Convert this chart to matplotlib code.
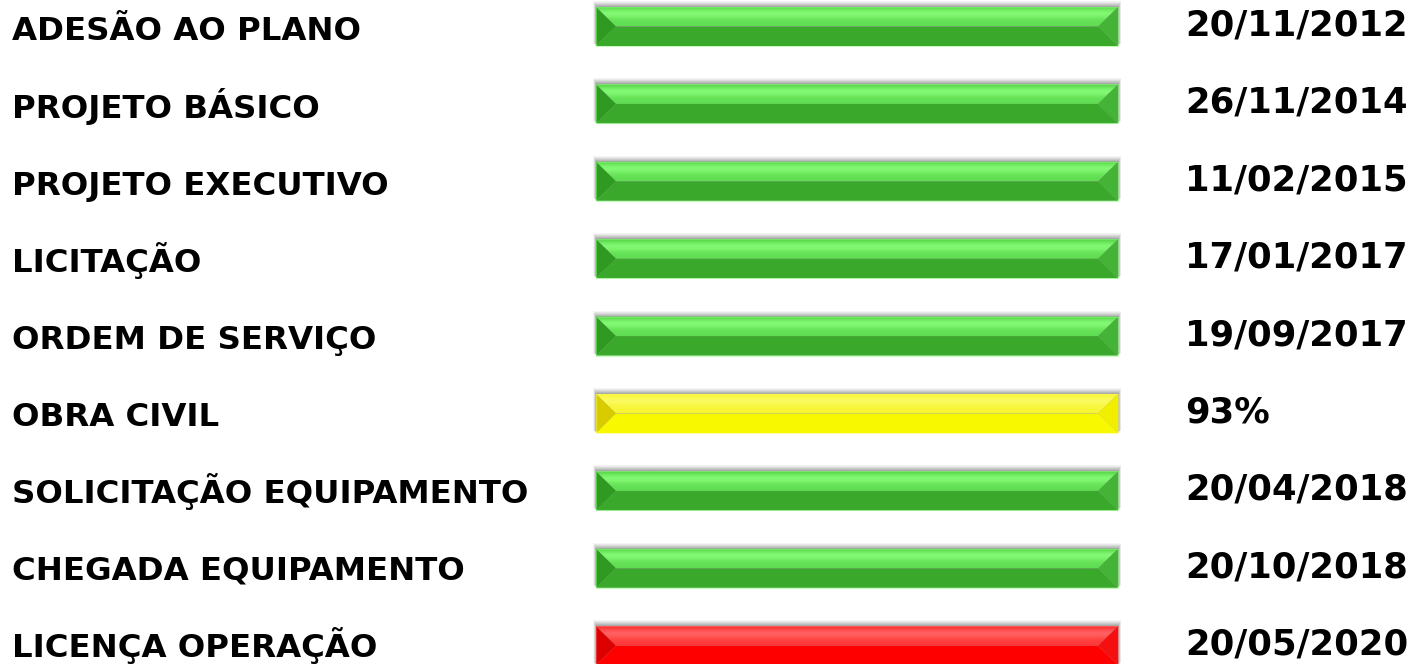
import numpy as np
import matplotlib.pyplot as plt
from matplotlib.patches import Polygon, Rectangle
from matplotlib.colors import LinearSegmentedColormap

etapas = ['ADESÃO AO PLANO', 'PROJETO BÁSICO', 'PROJETO EXECUTIVO', 'LICITAÇÃO',
          'ORDEM DE SERVIÇO', 'OBRA CIVIL', 'SOLICITAÇÃO EQUIPAMENTO',
          'CHEGADA EQUIPAMENTO', 'LICENÇA OPERAÇÃO']
situacao = ['ok', 'ok', 'ok', 'ok', 'ok', 'andamento', 'ok', 'ok', 'pendente']
datas = ['20/11/2012', '26/11/2014', '11/02/2015', '17/01/2017', '19/09/2017',
         '93%', '20/04/2018', '20/10/2018', '20/05/2020']

# top light, top base, bottom, left bevel, right bevel
cores = {
    'ok': ('#84fa74', '#5cda4e', '#3aa82b', '#2f9a22', '#44b436'),
    'andamento': ('#fafa60', '#f8f530', '#f8f800', '#d8cc00', '#f2ee00'),
    'pendente': ('#ff6262', '#ff3434', '#ff0000', '#dc0000', '#f41010'),
}

W, H = 1416, 664
fig = plt.figure(figsize=(W / 100, H / 100), dpi=100)
ax = fig.add_axes([0, 0, 1, 1])
ax.set_xlim(0, W)
ax.set_ylim(H, 0)
ax.axis('off')

y0 = 26.5
passo = 77.4
x_ini, largura, altura = 596, 522, 39
bev = 20

for i, (nome, sit, txt) in enumerate(zip(etapas, situacao, datas)):
    yc = y0 + i * passo
    top, bot = yc - altura / 2, yc + altura / 2
    xl, xr = x_ini, x_ini + largura
    c_top1, c_top2, c_bot, c_left, c_right = cores[sit]

    # sombra suave (mais forte em cima)
    for k, a in enumerate([0.04, 0.05, 0.06, 0.07, 0.08, 0.09]):
        d = 6 - k
        ax.add_patch(Rectangle((xl - d * 0.5, top - d), largura + d, altura + d * 0.6,
                               facecolor='black', alpha=a, lw=0, zorder=1))

    # faixa superior com gradiente
    sup = Polygon([(xl, top), (xr, top), (xr - bev, yc), (xl + bev, yc)],
                  facecolor='none', lw=0, zorder=3)
    ax.add_patch(sup)
    grad = np.array([0.0, 0.6, 1.0, 0.8, 0.4, 0.2, 0.1]).reshape(-1, 1)
    cmap = LinearSegmentedColormap.from_list('g', [c_top2, c_top1])
    im = ax.imshow(grad, cmap=cmap, extent=(xl, xr, yc, top), aspect='auto',
                   zorder=3, interpolation='bilinear', vmin=0, vmax=1)
    im.set_clip_path(sup)
    # chanfros
    ax.add_patch(Polygon([(xl, top), (xl + bev, yc), (xl, bot)],
                         facecolor=c_left, lw=0, zorder=4))
    ax.add_patch(Polygon([(xr, top), (xr - bev, yc), (xr, bot)],
                         facecolor=c_right, lw=0, zorder=4))
    ax.add_patch(Polygon([(xl + bev, yc), (xr - bev, yc), (xr, bot), (xl, bot)],
                         facecolor=c_bot, lw=0, zorder=4))
    ax.add_patch(Rectangle((xl, top), largura, altura, facecolor='none',
                           edgecolor=c_top1, lw=0.8, alpha=0.5, zorder=5))

    ax.text(12, yc + 14 - 0.35 * i, nome, fontsize=23.3, fontweight='bold', color='black',
            va='baseline', ha='left', family='DejaVu Sans')
    ax.text(1185, yc + 9, txt, fontsize=25.5, fontweight='bold', color='black',
            va='baseline', ha='left', family='DejaVu Sans')

fig.savefig('out.png', dpi=100, facecolor='white')
